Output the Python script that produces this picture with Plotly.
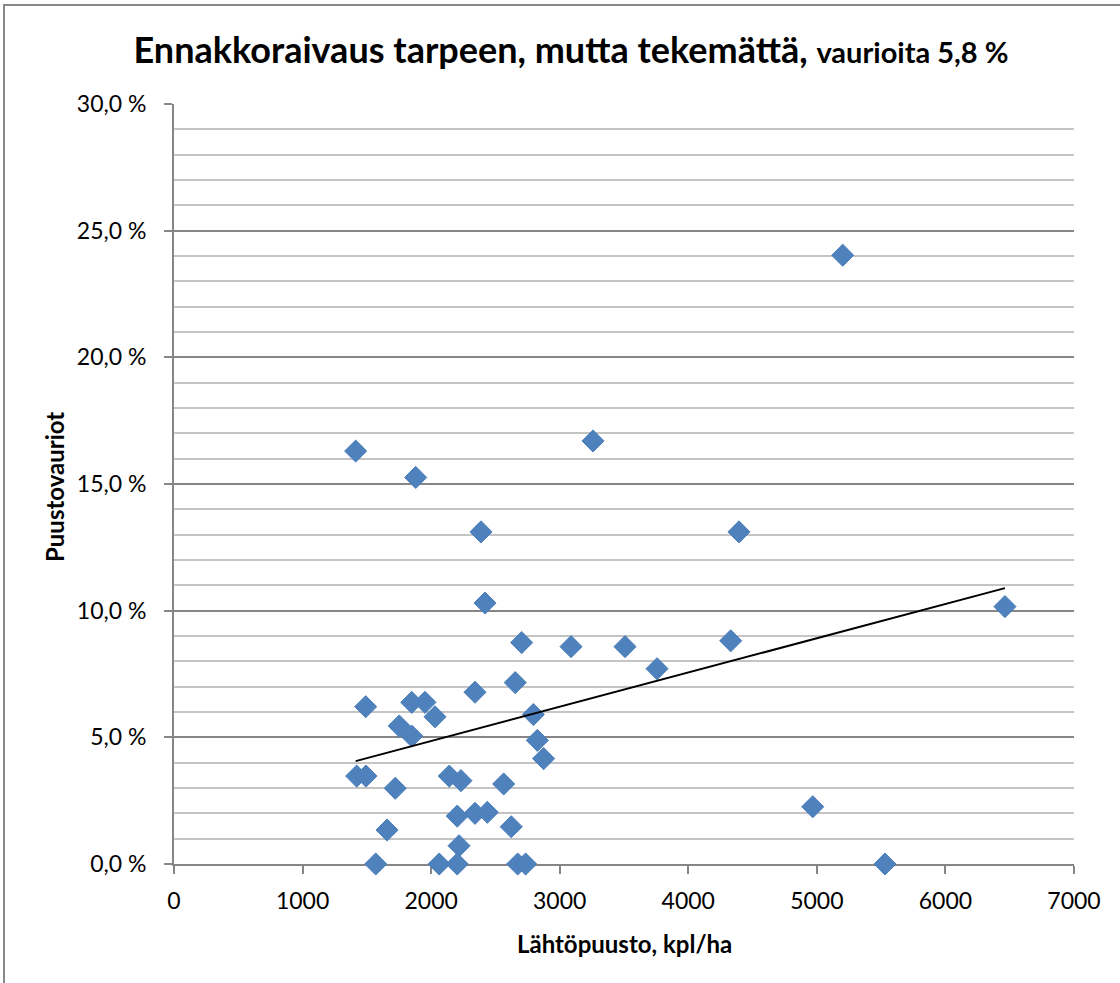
import plotly.graph_objects as go

# Data
lahtopuusto = [1421, 1493, 1491, 1413, 1569, 1657, 1721, 1752, 1849, 1849,
               1880, 1952, 2030, 2063, 2141, 2203, 2217, 2203, 2232, 2341,
               2341, 2388, 2437, 2419, 2564, 2623, 2654, 2673, 2735, 2704,
               2795, 2826, 2875, 3088, 3259, 3508, 3757, 4330, 4394, 4968,
               5201, 5530, 6463]
vauriot = [3.47, 3.47, 6.21, 16.30, 0.0, 1.34, 2.99, 5.45, 5.05, 6.38,
           15.26, 6.38, 5.81, 0.0, 3.47, 1.89, 0.72, 0.0, 3.29, 2.00,
           6.78, 13.11, 2.04, 10.30, 3.16, 1.47, 7.16, 0.0, 0.0, 8.74,
           5.90, 4.88, 4.16, 8.58, 16.70, 8.58, 7.71, 8.81, 13.11, 2.26,
           24.03, 0.0, 10.16]
trend_x = [1413, 6463]
trend_y = [4.06, 10.89]

y_ticks = [0, 5, 10, 15, 20, 25, 30]
y_ticktext = [f"{v:.1f}".replace(".", ",") + " %" for v in y_ticks]
x_ticks = [0, 1000, 2000, 3000, 4000, 5000, 6000, 7000]
x_ticktext = [str(v) for v in x_ticks]

FONT = "Lato, 'Noto Sans', sans-serif"

fig = go.Figure()
fig.add_trace(go.Scatter(
    x=lahtopuusto, y=vauriot, mode="markers",
    marker=dict(symbol="diamond", size=17, color="#4F81BD",
                line=dict(width=1, color="#4a7ebb")),
    cliponaxis=False, showlegend=False, hoverinfo="x+y"))
fig.add_trace(go.Scatter(
    x=trend_x, y=trend_y, mode="lines",
    line=dict(color="black", width=2), showlegend=False, hoverinfo="skip"))

fig.update_layout(
    width=1120, height=983,
    margin=dict(l=174, r=46, t=104, b=119),
    paper_bgcolor="white", plot_bgcolor="white",
    font=dict(family=FONT, color="black", size=23),
    title=dict(
        text="<b>Ennakkoraivaus tarpeen, mutta tekemättä, <span style='font-size:29px'>vaurioita 5,8 %</span></b>",
        x=571 / 1120, xanchor="center", xref="container",
        y=1 - 50 / 983, yanchor="middle", yref="container",
        font=dict(size=36, family=FONT, color="black")),
    xaxis=dict(
        range=[0, 7000], tickvals=x_ticks, ticktext=x_ticktext,
        showgrid=False, zeroline=False,
        showline=True, linecolor="#868686", linewidth=2,
        ticks="outside", ticklen=8, tickwidth=2, tickcolor="#868686",
        ticklabelstandoff=7,
        tickfont=dict(size=23, family=FONT), layer="below traces"),
    yaxis=dict(
        range=[0, 30], tickvals=y_ticks, ticktext=y_ticktext,
        showgrid=True, gridcolor="#868686", gridwidth=1.5,
        minor=dict(dtick=1, showgrid=True, gridcolor="#c4c4c4", gridwidth=1.5),
        zeroline=False,
        showline=True, linecolor="#868686", linewidth=2,
        ticks="outside", ticklen=8, tickwidth=2, tickcolor="#868686",
        ticklabelstandoff=13,
        tickfont=dict(size=23, family=FONT), layer="below traces"),
    shapes=[dict(type="rect", xref="paper", yref="paper",
                 x0=(4 - 174) / 900, x1=(1130 - 174) / 900,
                 y0=-0.2, y1=(864 - 5) / 760,
                 line=dict(color="#878787", width=2), fillcolor="rgba(0,0,0,0)",
                 layer="below")],
    annotations=[
        dict(text="<b>Lähtöpuusto, kpl/ha</b>", xref="paper", yref="paper",
             x=0.5, y=(864 - 943) / 760, xanchor="center", yanchor="middle",
             showarrow=False, font=dict(size=24, family=FONT)),
        dict(text="<b>Puustovauriot</b>", xref="paper", yref="paper",
             x=(54 - 174) / 900, y=(864 - 487) / 760, xanchor="center", yanchor="middle",
             textangle=-90, showarrow=False, font=dict(size=24, family=FONT)),
    ],
)

fig.write_html("out.html", config={"displayModeBar": False},
               post_script="document.body.style.margin='0';")
